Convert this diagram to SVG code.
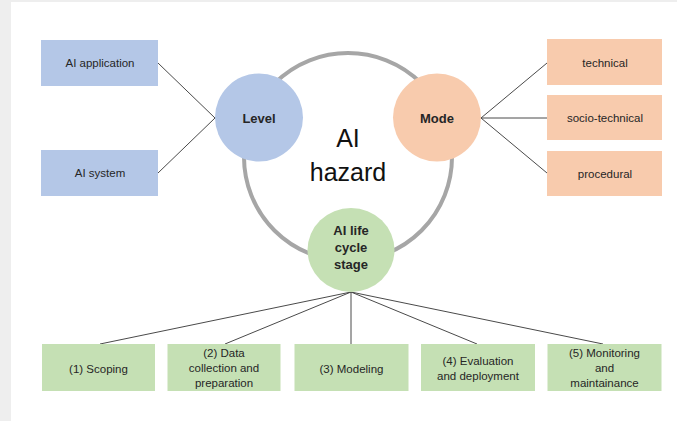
<svg xmlns="http://www.w3.org/2000/svg" width="677" height="421" viewBox="0 0 677 421">
<style>
.t{font-family:"Liberation Sans",Arial,sans-serif;font-size:11.5px;fill:#262626;text-anchor:middle}
.b{font-weight:bold;font-size:13px}
.blue{fill:#b4c7e7}
.orange{fill:#f8cbad}
.green{fill:#c5e0b4}
.ln{stroke:#4a4a4a;stroke-width:1;fill:none}
</style>
<rect x="0" y="0" width="677" height="421" fill="#eeeeee"/>
<rect x="11" y="2" width="666" height="419" fill="#ffffff"/>
<circle id="ring" cx="348" cy="157" r="104" fill="none" stroke="#a6a6a6" stroke-width="4"/>
<text class="t" x="348" y="147" style="font-size:25px;fill:#111">AI</text>
<text class="t" x="348" y="181" style="font-size:25px;fill:#111">hazard</text>
<g id="connectors">
<line class="ln" x1="158" y1="63" x2="215" y2="118"/>
<line class="ln" x1="158" y1="173" x2="215" y2="118"/>
<line class="ln" x1="481" y1="118" x2="547" y2="63"/>
<line class="ln" x1="481" y1="118" x2="547" y2="118"/>
<line class="ln" x1="481" y1="118" x2="547" y2="173"/>
<line class="ln" x1="351" y1="292" x2="100" y2="344"/>
<line class="ln" x1="351" y1="292" x2="225" y2="344"/>
<line class="ln" x1="351" y1="292" x2="351" y2="344"/>
<line class="ln" x1="351" y1="292" x2="477" y2="344"/>
<line class="ln" x1="351" y1="292" x2="603" y2="344"/>
</g>
<g id="ai-application"><rect class="blue" x="41" y="40" width="117" height="46"/><text class="t" x="100" y="67">AI application</text></g>
<g id="ai-system"><rect class="blue" x="41" y="150" width="117" height="46"/><text class="t" x="100" y="177">AI system</text></g>
<g id="level"><circle class="blue" cx="259" cy="117.5" r="44"/><text class="t b" x="259" y="123">Level</text></g>
<g id="mode"><circle class="orange" cx="437" cy="117.5" r="44"/><text class="t b" x="437" y="123">Mode</text></g>
<g id="technical"><rect class="orange" x="547" y="39" width="115" height="46"/><text class="t" x="605" y="66.5">technical</text></g>
<g id="socio-technical"><rect class="orange" x="547" y="95" width="115" height="45"/><text class="t" x="605" y="122">socio-technical</text></g>
<g id="procedural"><rect class="orange" x="547" y="151" width="115" height="45"/><text class="t" x="605" y="177.5">procedural</text></g>
<g id="lifecycle"><ellipse class="green" cx="351" cy="250" rx="43.5" ry="42"/>
<text class="t b" x="351" y="235">AI life</text><text class="t b" x="351" y="252">cycle</text><text class="t b" x="351" y="268.5">stage</text></g>
<g id="scoping"><rect class="green" x="42" y="344" width="113" height="47"/><text class="t" x="98.5" y="373">(1) Scoping</text></g>
<g id="data"><rect class="green" x="167.5" y="344" width="113" height="47"/><text class="t" x="224" y="357">(2) Data</text><text class="t" x="224" y="372">collection and</text><text class="t" x="224" y="387">preparation</text></g>
<g id="modeling"><rect class="green" x="294.5" y="344" width="114" height="47"/><text class="t" x="351.5" y="373">(3) Modeling</text></g>
<g id="evaluation"><rect class="green" x="421" y="344" width="114" height="47"/><text class="t" x="478" y="364.5">(4) Evaluation</text><text class="t" x="478" y="380">and deployment</text></g>
<g id="monitoring"><rect class="green" x="547.5" y="344" width="114" height="47"/><text class="t" x="604.5" y="357">(5) Monitoring</text><text class="t" x="604.5" y="372">and</text><text class="t" x="604.5" y="387">maintainance</text></g>
</svg>
